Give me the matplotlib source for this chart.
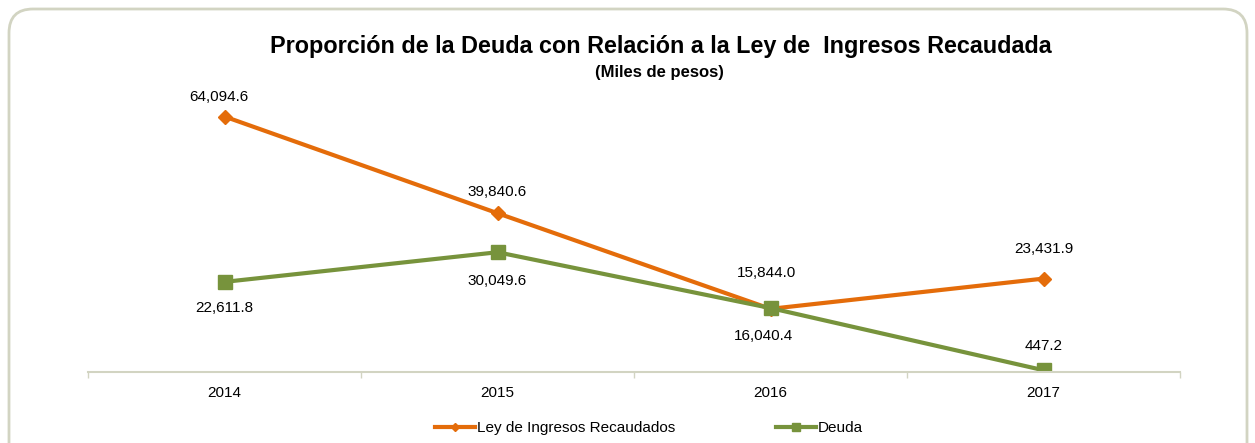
import numpy as np
import matplotlib.pyplot as plt
from matplotlib.patches import FancyBboxPatch

plt.rcParams['font.family'] = ['Liberation Sans', 'DejaVu Sans']

years = ['2014', '2015', '2016', '2017']
ley = [64094.6, 39840.6, 15844.0, 23431.9]
deuda = [22611.8, 30049.6, 16040.4, 447.2]
ley_labels = ['64,094.6', '39,840.6', '15,844.0', '23,431.9']
deuda_labels = ['22,611.8', '30,049.6', '16,040.4', '447.2']

# desplazamiento de las etiquetas (pixeles)
ley_off = [(-6, 20), (0, 21), (-4, 36), (0, 30)]
deuda_off = [(0, -26), (0, -29), (-7, -28), (0, 24)]

orange = '#E46C0A'
green = '#77933C'
axis_col = '#D2D4C2'

fig = plt.figure(figsize=(12.55, 4.43), dpi=100)

# marco redondeado (fondo en pixeles)
bg = fig.add_axes([0, 0, 1, 1], zorder=-1)
bg.set_xlim(0, 1255)
bg.set_ylim(443, 0)
bg.axis('off')
bg.add_patch(FancyBboxPatch((9, 9), 1238, 500, boxstyle='round,pad=0,rounding_size=24',
                            facecolor='white', edgecolor=axis_col, linewidth=2))

ax = fig.add_axes([88 / 1255, (443 - 372) / 443, (1180 - 88) / 1255, (372 - 93) / 443])
ax.set_facecolor('none')
x = np.arange(len(years))

ax.plot(x, ley, color=orange, lw=3, marker='D', ms=7.5, label='Ley de Ingresos Recaudados')
ax.plot(x, deuda, color=green, lw=3, marker='s', ms=10, label='Deuda')

ax.set_xlim(-0.5, 3.5)
ax.set_ylim(0, 70000)

for i, t in enumerate(ley_labels):
    ax.annotate(t, (x[i], ley[i]), xytext=ley_off[i], textcoords='offset pixels',
                ha='center', va='center', fontsize=11)
for i, t in enumerate(deuda_labels):
    ax.annotate(t, (x[i], deuda[i]), xytext=deuda_off[i], textcoords='offset pixels',
                ha='center', va='center', fontsize=11)

for s in ['top', 'right', 'left']:
    ax.spines[s].set_visible(False)
ax.spines['bottom'].set_color(axis_col)
ax.spines['bottom'].set_linewidth(1.5)
ax.set_yticks([])
ax.set_xticks(x)
ax.set_xticklabels(years, fontsize=11)
ax.tick_params(axis='x', length=0, pad=10)
ax.set_xticks(np.arange(-0.5, 3.6, 1), minor=True)
ax.tick_params(axis='x', which='minor', length=4, color=axis_col, width=1)

fig.text(661 / 1255, 1 - 47 / 443, 'Proporción de la Deuda con Relación a la Ley de  Ingresos Recaudada',
         ha='center', va='center', fontsize=16.8, fontweight='bold')
fig.text(659 / 1255, 1 - 72 / 443, '(Miles de pesos)', ha='center', va='center',
         fontsize=12, fontweight='bold')

fig.legend(loc='center', bbox_to_anchor=(649 / 1255, 1 - 428 / 443), ncol=2, frameon=False,
           fontsize=11, handlelength=2.6, columnspacing=6.6, handletextpad=0.15,
           markerscale=0.6)

fig.savefig('out.png', dpi=100)
